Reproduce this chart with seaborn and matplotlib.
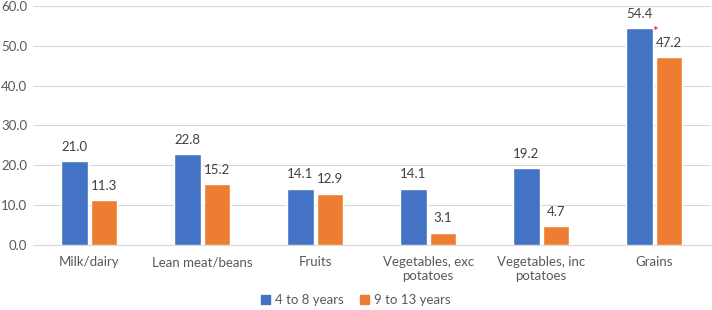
import pandas as pd
import seaborn as sns
from matplotlib import pyplot as plt
from matplotlib.patches import Patch

categories = ['Milk/dairy', 'Lean meat/beans', 'Fruits',
              'Vegetables, exc\npotatoes', 'Vegetables, inc\npotatoes', 'Grains']
young = [21.0, 22.8, 14.1, 14.1, 19.2, 54.4]
older = [11.3, 15.2, 12.9, 3.1, 4.7, 47.2]
groups = ['4 to 8 years', '9 to 13 years']
colors = ['#4472C4', '#ED7D31']

data = pd.DataFrame({
    'food': categories * 2,
    'value': young + older,
    'age': [groups[0]] * 6 + [groups[1]] * 6,
})

sns.set_style('white')
plt.rcParams['font.family'] = ['Lato', 'DejaVu Sans']
TXT = '#595959'

fig = plt.figure(figsize=(7.12, 3.10), dpi=100)
ax = fig.add_axes([0.046, 0.21, 0.952, 0.771])
sns.barplot(data=data, x='food', y='value', hue='age', palette=colors,
            saturation=1, width=0.52, gap=0.1, ax=ax, legend=False, zorder=3)

for c in ax.containers:
    ax.bar_label(c, fmt='%.1f', padding=6, fontsize=9.5, color='#404040')

# significance mark on grains
grain_bar = ax.containers[0][5]
ax.text(grain_bar.get_x() + grain_bar.get_width(), young[5] - 2.4, '*',
        color='red', fontsize=9.5, ha='left', va='bottom')

ax.set_ylim(0, 60)
ax.set_xlim(-0.5, 5.5)
ax.set_yticks(range(0, 61, 10))
ax.set_yticklabels([f'{v:.1f}' for v in range(0, 61, 10)])
ax.yaxis.grid(True, color='#D9D9D9', linewidth=0.8, zorder=0)
ax.set_xlabel('')
ax.set_ylabel('')
for s in ['top', 'left', 'right']:
    ax.spines[s].set_visible(False)
ax.spines['bottom'].set_color('#D9D9D9')
ax.tick_params(axis='both', length=0, labelsize=9.5, labelcolor=TXT)
ax.tick_params(axis='x', pad=8)
ax.tick_params(axis='y', pad=4)

handles = [Patch(color=c, label=g) for c, g in zip(colors, groups)]
fig.legend(handles=handles, loc='lower center', bbox_to_anchor=(0.5, -0.012),
           ncol=2, frameon=False, fontsize=9.5, handlelength=0.7,
           handleheight=0.7, handletextpad=0.4, columnspacing=1.2,
           borderpad=0.1, labelcolor=TXT)

plt.savefig('out.png', dpi=100)
plt.close()
